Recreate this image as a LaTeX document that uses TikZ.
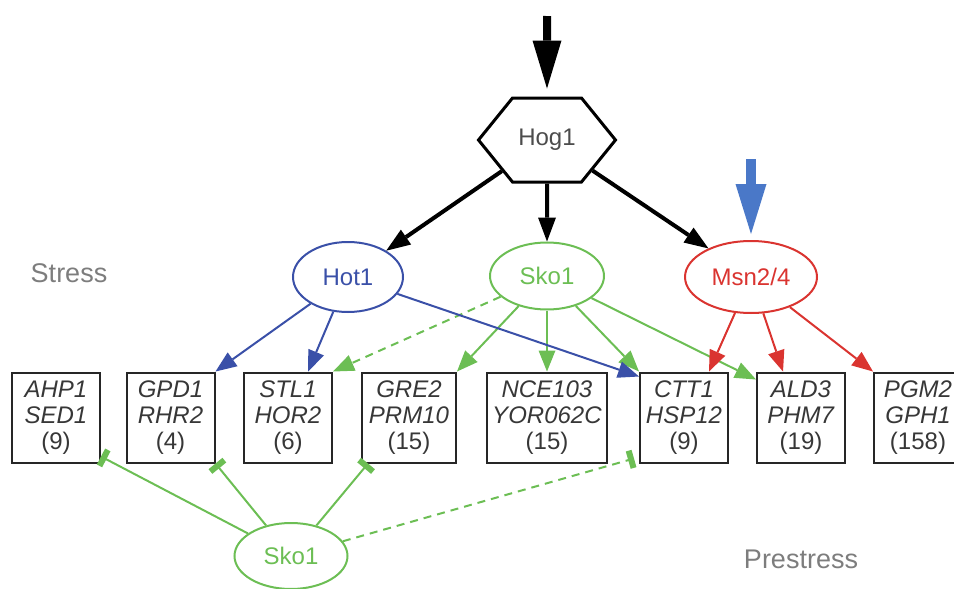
\documentclass[tikz,border=0pt]{standalone}
\usepackage{fontspec}
\setmainfont{Liberation Sans}
\usetikzlibrary{arrows.meta,shapes.geometric,shapes.symbols,calc}

\definecolor{hotblue}{RGB}{58,80,168}
\definecolor{skogreen}{RGB}{108,190,84}
\definecolor{msnred}{RGB}{218,52,48}
\definecolor{inblue}{RGB}{74,120,200}
\definecolor{labelgray}{RGB}{125,125,125}
\definecolor{textgray}{RGB}{55,55,55}

\begin{document}
\begin{tikzpicture}[x=0.5pt,y=-0.5pt,
    genebox/.style={rectangle, draw=black!85, line width=1pt, minimum width=44pt, minimum height=45pt, inner sep=0pt, align=center, text=textgray, font=\fontsize{12}{13}\selectfont},
    factor/.style={ellipse, draw, line width=1pt, inner sep=0pt, font=\fontsize{12}{14}\selectfont},
    act/.style={line width=1pt, -{Triangle[length=10.5pt,width=8.5pt,line width=0pt]}},
    inh/.style={line width=1pt, skogreen, -{Bar[width=9pt,line width=3pt]}},
    big/.style={line width=2pt, -{Triangle[length=12pt,width=9pt,line width=0pt]}},
    side/.style={text=labelgray, font=\fontsize{13.5}{16}\selectfont}]
    \useasboundingbox (0,0) rectangle (954,589);

    % kinase and the three factors
    \node(hog) [signal, signal to=east and west, signal pointer angle=102, draw, line width=1.5pt, minimum width=68.5pt, minimum height=42pt, inner sep=0pt, text=black!70, font=\fontsize{12}{14}\selectfont] at (547,140) {Hog1};
    \node(hot) [factor, draw=hotblue, text=hotblue, minimum width=55pt, minimum height=35pt] at (348,277) {Hot1};
    \node(sko) [factor, draw=skogreen, text=skogreen, minimum width=57pt, minimum height=33.5pt] at (547,276) {Sko1};
    \node(msn) [factor, draw=msnred, text=msnred, minimum width=66pt, minimum height=36pt] at (751,277) {Msn2/4};

    % target genes
    \node(ahp) [genebox] at (56,417.5) {\textit{AHP1}\\\textit{SED1}\\(9)};
    \node(gpd) [genebox] at (170.5,417.5) {\textit{GPD1}\\\textit{RHR2}\\(4)};
    \node(stl) [genebox] at (288,417.5) {\textit{STL1}\\\textit{HOR2}\\(6)};
    \node(gre) [genebox, minimum width=47pt] at (409,417.5) {\textit{GRE2}\\\textit{PRM10}\\(15)};
    \node(nce) [genebox, minimum width=60pt] at (547,417.5) {\textit{NCE103}\\\textit{YOR062C}\\(15)};
    \node(ctt) [genebox] at (684,417.5) {\textit{CTT1}\\\textit{HSP12}\\(9)};
    \node(ald) [genebox] at (801,417.5) {\textit{ALD3}\\\textit{PHM7}\\(19)};
    \node(pgm) [genebox] at (918,417.5) {\textit{PGM2}\\\textit{GPH1}\\(158)};

    \node(skob) [factor, draw=skogreen, text=skogreen, minimum width=56.5pt, minimum height=33pt] at (291,556) {Sko1};

    \node(stress) [side] at (69,273) {Stress};
    \node(prestress) [side] at (801,559) {Prestress};

    % inputs
    \coordinate(hogin) at (547,16);
    \coordinate(msnin) at (751,159);
    \draw[line width=4pt, -{Triangle[length=24pt,width=14.5pt,line width=0pt]}, shorten >=4pt] (hogin) -- (hog);
    \draw[inblue, line width=5pt, -{Triangle[length=25pt,width=15.5pt,line width=0pt]}, shorten >=3pt] (msnin) -- (msn);

    \draw[big] (hog) -- (hot);
    \draw[big] (hog) -- (sko);
    \draw[big] (hog) -- (msn);

    \draw[act, skogreen, dash pattern=on 4pt off 3pt] (sko) -- (stl.north east);
    \draw[act, skogreen] (sko) -- (gre.north east);
    \draw[act, skogreen] (sko) -- (nce);
    \draw[act, skogreen] (sko) -- (ctt.north west);
    \draw[act, skogreen] (sko) -- ([yshift=-4pt]ald.north west);
    \draw[act, hotblue] (hot) -- (gpd.north east);
    \draw[act, hotblue] (hot) -- ([xshift=10pt]stl.north);
    \draw[act, hotblue] (hot) -- ([yshift=-2.5pt]ctt.north west);
    \draw[act, msnred] (msn) -- ([xshift=-10pt]ctt.north east);
    \draw[act, msnred] (msn) -- ([xshift=-9pt]ald.north);
    \draw[act, msnred] (msn) -- (pgm.north west);

    \draw[inh] (skob) -- ([yshift=3.5pt]ahp.south east);
    \draw[inh] (skob) -- (gpd.south east);
    \draw[inh] (skob) -- ([xshift=3.5pt]gre.south west);
    \draw[inh, dash pattern=on 4pt off 3pt] (skob) -- ([xshift=-2.5pt,yshift=2.5pt]ctt.south west);
\end{tikzpicture}
\end{document}
